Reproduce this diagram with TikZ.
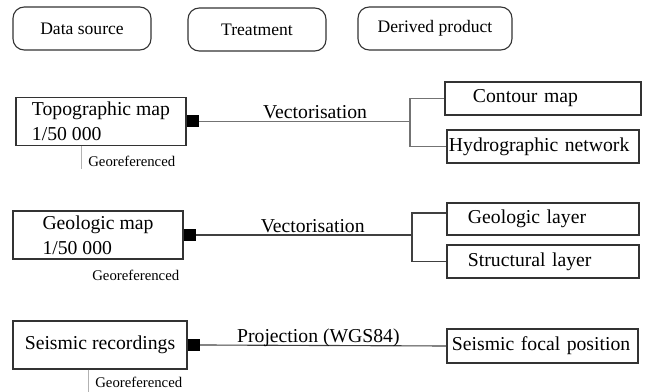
\documentclass[tikz,border=0pt]{standalone}
\usepackage{fontspec}
\setmainfont{Liberation Serif}
\usetikzlibrary{positioning, calc}

\begin{document}
\begin{tikzpicture}[
        x=0.025cm, y=-0.025cm,
        head/.style={draw=black!80, line width=0.8pt, rounded corners=8pt, minimum width=3.45cm, minimum height=1.075cm, font=\fontsize{12.5}{15}\selectfont},
        source/.style={draw=black!80, line width=0.8pt, minimum width=4.25cm, minimum height=1.2cm, align=left, font=\fontsize{14}{17.5}\selectfont},
        product/.style={draw=black!80, line width=0.8pt, minimum height=0.825cm, inner ysep=0pt, align=left, font=\fontsize{14}{17}\selectfont},
        port/.style={fill=black, minimum size=0.3cm, inner sep=0pt},
        link/.style={draw=black!75, line width=0.8pt},
        treat/.style={font=\fontsize{14}{17}\selectfont, anchor=base, inner sep=0pt, yshift=2pt},
        georef/.style={font=\fontsize{10.5}{12}\selectfont, anchor=base west, inner xsep=5pt, inner ysep=1pt},
        tick/.style={draw=black!30, line width=0.6pt}
    ]
        \useasboundingbox (0,0) rectangle (647,392);

        % Column headers
        \node[head] (hsrc) at (82,28.5) {Data source};
        \node[head] (htreat) at (257,29.5) {Treatment};
        \node[head, minimum width=3.85cm] (hprod) at (435,28.5) {Derived product};

        % Data sources
        \node[source] (topo) at (101,121.5) {Topographic map\\1/50 000};
        \node[source] (geo) at (98,235) {Geologic map\\1/50 000};
        \node[source, minimum width=4.35cm] (seis) at (100,345) {Seismic recordings};

        \node[port, right=0pt of topo] (tport) {};
        \node[port, right=0pt of geo] (gport) {};
        \node[port, right=0pt of seis] (sport) {};

        % Derived products
        \node[product, minimum width=4.9cm, inner xsep=0.7cm, text width=3.5cm] (contour) at (543,98.5) {Contour map};
        \node[product, inner xsep=0.05cm, text width=4.7cm] (hydro) at (543,146.5) {Hydrographic network};
        \node[product, minimum height=0.8cm, inner xsep=0.525cm, text width=3.75cm] (geolayer) at (543,219) {Geologic layer};
        \node[product, inner xsep=0.525cm, text width=3.75cm] (struct) at (543,261.5) {Structural layer};
        \node[product, minimum height=0.85cm, inner xsep=0.125cm, text width=4.525cm] (focal) at (542.5,346) {Seismic focal position};

        % Treatments
        \coordinate (tsplit) at (410,121.5);
        \coordinate (gsplit) at (412,235);
        \draw[link, draw=black!55] (tport.east) -- node[treat, pos=0.55] (tvec) {Vectorisation} (tsplit);
        \draw[link, draw=black!55] (tsplit) |- (contour.west);
        \draw[link, draw=black!55] (tsplit) |- (hydro.west);
        \draw[link] (gport.east) -- node[treat, pos=0.54] (gvec) {Vectorisation} (gsplit);
        \draw[link] (gsplit) |- ([yshift=0.15cm]geolayer.west);
        \draw[link] (gsplit) |- (struct.west);
        \draw[link] (sport.east) -- node[treat, pos=0.48] (proj) {Projection (WGS84)} (focal.west);

        % Georeferencing notes
        \node[georef] (tgeo) at (81,167) {Georeferenced};
        \node[georef] (ggeo) at (85,281) {Georeferenced};
        \node[georef] (sgeo) at (88,388) {Georeferenced};
        \draw[tick] (tgeo.west |- topo.south) -- (tgeo.south west);
        \draw[tick] (sgeo.west |- seis.south) -- (sgeo.west |- 0,392);
    \end{tikzpicture}
\end{document}
